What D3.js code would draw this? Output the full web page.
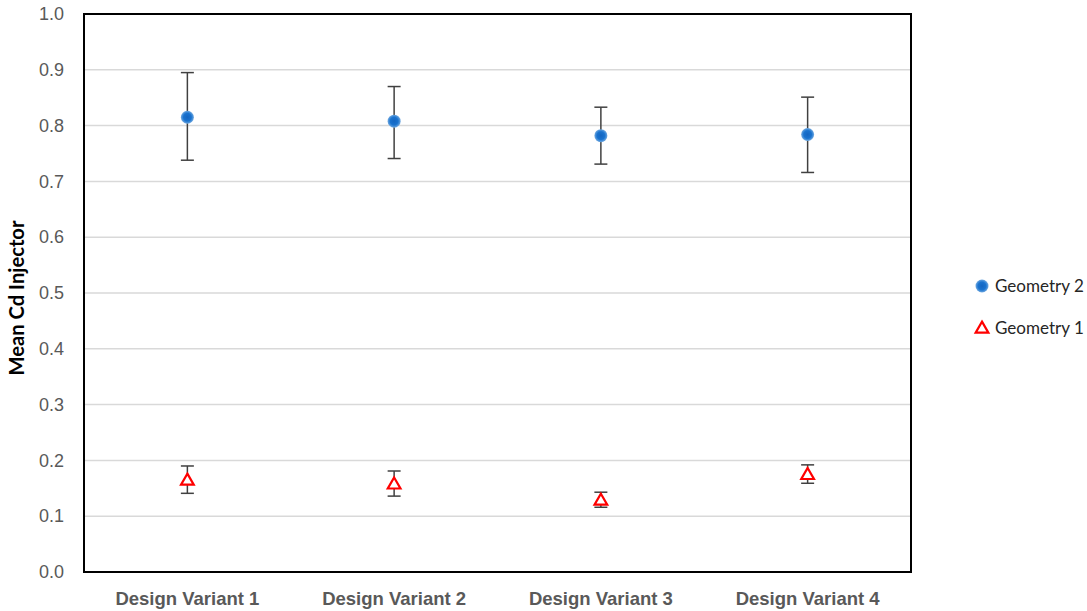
<!DOCTYPE html>
<html>
<head>
<meta charset="utf-8">
<script src="https://cdn.jsdelivr.net/npm/d3@7"></script>
<style>
  html, body { margin: 0; padding: 0; background: #fff; }
  svg { display: block; font-family: Lato, "Open Sans", "Liberation Sans", sans-serif; }
</style>
</head>
<body>
<svg id="chart" width="1087" height="611"></svg>
<script>
// Design variants on the x axis
const categories = ["Design Variant 1", "Design Variant 2", "Design Variant 3", "Design Variant 4"];

// Geometry 2: mean Cd with lower/upper error bounds
const geom2Mean  = [0.815, 0.808, 0.782, 0.784];
const geom2Lower = [0.738, 0.741, 0.731, 0.716];
const geom2Upper = [0.895, 0.870, 0.833, 0.851];

// Geometry 1: mean Cd with lower/upper error bounds
const geom1Mean  = [0.165, 0.158, 0.129, 0.175];
const geom1Lower = [0.141, 0.136, 0.116, 0.159];
const geom1Upper = [0.190, 0.181, 0.143, 0.192];

const yTicks = [0, 0.1, 0.2, 0.3, 0.4, 0.5, 0.6, 0.7, 0.8, 0.9, 1.0];

const svg = d3.select("#chart");
const plot = { left: 84, right: 911, top: 14, bottom: 572 };

const x = d3.scaleBand().domain(categories).range([plot.left, plot.right]);
const y = d3.scaleLinear().domain([0, 1]).range([plot.bottom, plot.top]);

// Scale a text's font size so it spans the given width
function fitWidth(sel, width) {
  sel.each(function () {
    const el = d3.select(this);
    const fs = parseFloat(el.style("font-size"));
    const w = this.getComputedTextLength();
    if (w > 0) el.style("font-size", (fs * width / w).toFixed(2) + "px");
  });
}

// Soft glow for the round markers
const defs = svg.append("defs");
const grad = defs.append("radialGradient").attr("id", "dotGrad");
grad.append("stop").attr("offset", "0%").attr("stop-color", "#1565c0");
grad.append("stop").attr("offset", "60%").attr("stop-color", "#1a73cf");
grad.append("stop").attr("offset", "100%").attr("stop-color", "#6fa8e0");

// Horizontal gridlines
svg.append("g")
  .selectAll("line")
  .data(yTicks.slice(1, -1))
  .join("line")
  .attr("x1", plot.left).attr("x2", plot.right)
  .attr("y1", d => y(d)).attr("y2", d => y(d))
  .attr("stroke", "#d9d9d9").attr("stroke-width", 1.5);

// Y axis labels
const yAxis = d3.axisLeft(y).tickValues(yTicks).tickFormat(d3.format(".1f")).tickSize(0).tickPadding(20);
const yG = svg.append("g").attr("transform", `translate(${plot.left},0)`).call(yAxis);
yG.select(".domain").remove();
yG.selectAll("text").attr("fill", "#595959").style("font-size", "17px");
fitWidth(yG.selectAll("text"), 25);

// X axis labels
const xAxis = d3.axisBottom(x).tickSize(0).tickPadding(20);
const xG = svg.append("g").attr("transform", `translate(0,${plot.bottom})`).call(xAxis);
xG.select(".domain").remove();
xG.selectAll("text").attr("fill", "#595959").style("font-size", "16px").style("font-weight", "bold");
fitWidth(xG.selectAll("text"), 144);

// Y axis title
const yTitle = svg.append("text")
  .attr("transform", `translate(24,${(plot.top + plot.bottom) / 2 + 5}) rotate(-90)`)
  .attr("text-anchor", "middle")
  .style("font-size", "17px").style("font-weight", "bold").attr("fill", "#000")
  .text("Mean Cd Injector");
fitWidth(yTitle, 155);

// Error bars
function errorBars(mean, lower, upper) {
  const g = svg.append("g").attr("stroke", "#404040").attr("stroke-width", 1.5);
  const cap = 6.5;
  categories.forEach((c, i) => {
    const cx = x(c) + x.bandwidth() / 2;
    g.append("line").attr("x1", cx).attr("x2", cx).attr("y1", y(lower[i])).attr("y2", y(upper[i]));
    g.append("line").attr("x1", cx - cap).attr("x2", cx + cap).attr("y1", y(lower[i])).attr("y2", y(lower[i]));
    g.append("line").attr("x1", cx - cap).attr("x2", cx + cap).attr("y1", y(upper[i])).attr("y2", y(upper[i]));
  });
}
errorBars(geom2Mean, geom2Lower, geom2Upper);
errorBars(geom1Mean, geom1Lower, geom1Upper);

const triangle = d3.symbol().type(d3.symbolTriangle).size(70);

// Geometry 2 markers
svg.append("g").selectAll("circle")
  .data(geom2Mean)
  .join("circle")
  .attr("cx", (d, i) => x(categories[i]) + x.bandwidth() / 2)
  .attr("cy", d => y(d))
  .attr("r", 6.5)
  .attr("fill", "url(#dotGrad)");

// Geometry 1 markers
svg.append("g").selectAll("path")
  .data(geom1Mean)
  .join("path")
  .attr("d", triangle)
  .attr("transform", (d, i) => `translate(${x(categories[i]) + x.bandwidth() / 2},${y(d) + 1})`)
  .attr("fill", "#fff").attr("stroke", "#ff0000").attr("stroke-width", 2.2);

// Plot frame
svg.append("rect")
  .attr("x", plot.left).attr("y", plot.top)
  .attr("width", plot.right - plot.left).attr("height", plot.bottom - plot.top)
  .attr("fill", "none").attr("stroke", "#000").attr("stroke-width", 2);

// Legend
const legend = svg.append("g");
legend.append("circle").attr("cx", 982).attr("cy", 286).attr("r", 6.5).attr("fill", "url(#dotGrad)");
legend.append("path").attr("d", triangle).attr("transform", "translate(982,329)")
  .attr("fill", "#fff").attr("stroke", "#ff0000").attr("stroke-width", 2.2);
const legendText = legend.selectAll("text")
  .data(["Geometry 2", "Geometry 1"])
  .join("text")
  .attr("x", 995).attr("y", (d, i) => 286 + i * 42).attr("dy", "0.35em")
  .style("font-size", "19px").attr("fill", "#262626").text(d => d);
fitWidth(legendText, 89);
</script>
</body>
</html>
